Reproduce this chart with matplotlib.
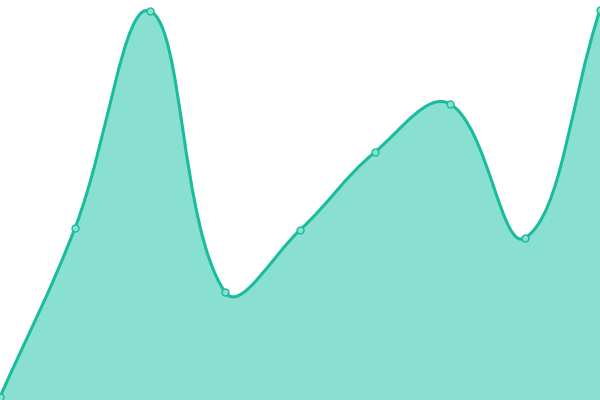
import numpy as np
import matplotlib
matplotlib.use('Agg')
import matplotlib.pyplot as plt
from matplotlib.path import Path
from matplotlib.patches import PathPatch

# data
x_vals = [0, 1, 2, 3, 4, 5, 6, 7, 8]
y_vals = [3, 172, 389, 108, 170, 248, 296, 162, 390]

line_color = '#1abc9c'
fill_color = '#8ae0d0'
tension = 0.4

fig = plt.figure(figsize=(6, 4), dpi=100)
ax = fig.add_axes([0, 0, 1, 1])
ax.set_xlim(0, 8)
ax.set_ylim(0, 400)
ax.axis('off')

# chart.js style bezier control points, computed in pixel space
px = np.array(x_vals, dtype=float) * 75.0
py = np.array(y_vals, dtype=float)
n = len(px)
cp_prev = []
cp_next = []
for i in range(n):
    p0 = (px[max(i - 1, 0)], py[max(i - 1, 0)])
    p1 = (px[i], py[i])
    p2 = (px[min(i + 1, n - 1)], py[min(i + 1, n - 1)])
    d01 = np.hypot(p1[0] - p0[0], p1[1] - p0[1])
    d12 = np.hypot(p2[0] - p1[0], p2[1] - p1[1])
    tot = d01 + d12
    s01 = d01 / tot if tot else 0
    s12 = d12 / tot if tot else 0
    fa = tension * s01
    fb = tension * s12
    cp_prev.append((p1[0] - fa * (p2[0] - p0[0]), p1[1] - fa * (p2[1] - p0[1])))
    cp_next.append((p1[0] + fb * (p2[0] - p0[0]), p1[1] + fb * (p2[1] - p0[1])))

verts = [(px[0] / 75.0, py[0])]
codes = [Path.MOVETO]
for i in range(n - 1):
    verts += [(cp_next[i][0] / 75.0, cp_next[i][1]),
              (cp_prev[i + 1][0] / 75.0, cp_prev[i + 1][1]),
              (px[i + 1] / 75.0, py[i + 1])]
    codes += [Path.CURVE4] * 3

line_path = Path(verts, codes)
fill_path = Path(verts + [(x_vals[-1], 0), (x_vals[0], 0), verts[0]],
                 codes + [Path.LINETO, Path.LINETO, Path.CLOSEPOLY])

ax.add_patch(PathPatch(fill_path, facecolor=fill_color, edgecolor='none', zorder=1))
ax.add_patch(PathPatch(line_path, facecolor='none', edgecolor=line_color, lw=2.2, zorder=2))
ax.plot(x_vals, y_vals, 'o', ms=5, mfc=fill_color, mec=line_color, mew=1, zorder=3, clip_on=False)

fig.savefig('out.png', dpi=100)
